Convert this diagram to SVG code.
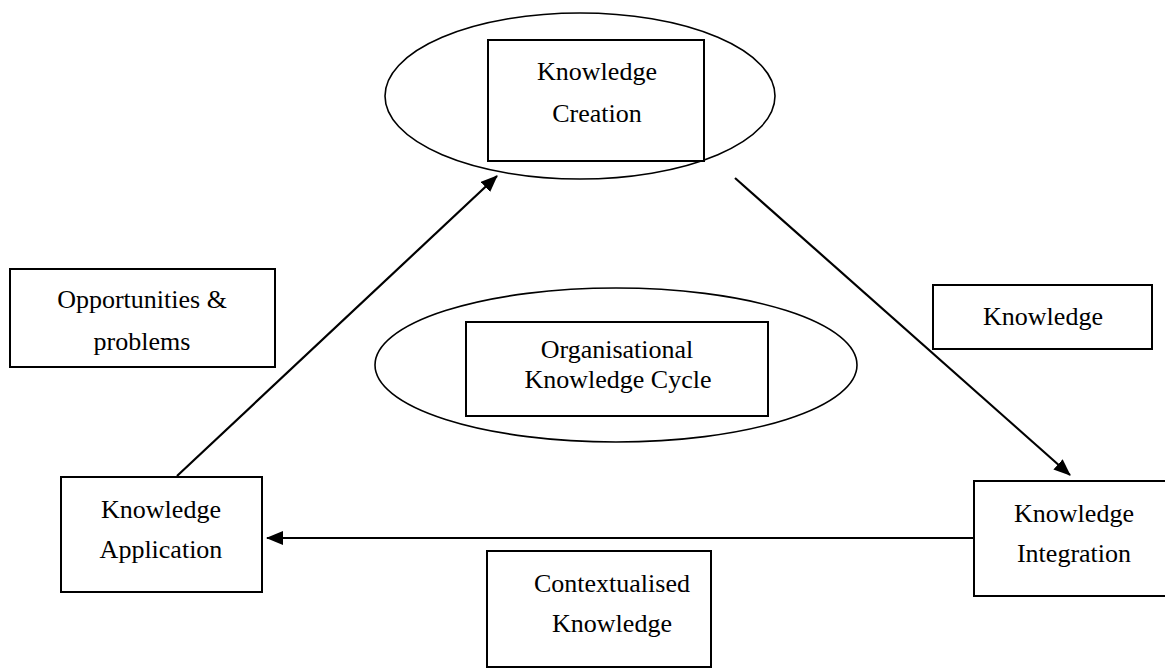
<svg xmlns="http://www.w3.org/2000/svg" width="1165" height="668" viewBox="0 0 1165 668">
<style>
.box{fill:#fff;stroke:#000;stroke-width:2}
.ell{fill:none;stroke:#000;stroke-width:1.6}
.t{font-family:'Liberation Serif','Times New Roman','DejaVu Serif',serif;font-size:26px;fill:#000;text-anchor:middle}
.edge{stroke:#000;stroke-width:2.2;fill:none;marker-end:url(#ah)}
</style>
<defs>
<marker id="ah" markerUnits="userSpaceOnUse" markerWidth="18" markerHeight="14" refX="16" refY="7" orient="auto">
<path d="M0,0 L17,7 L0,14 z" fill="#000"/>
</marker>
</defs>
<rect width="1165" height="668" fill="#fff"/>
<g id="creation">
<ellipse class="ell" cx="580" cy="96" rx="195" ry="83"/>
<rect class="box" x="488" y="40" width="216" height="121"/>
<text class="t" x="597" y="80" font-family="Liberation Serif, serif">Knowledge</text>
<text class="t" x="597" y="122" font-family="Liberation Serif, serif">Creation</text>
</g>
<g id="cycle">
<ellipse class="ell" cx="616" cy="365" rx="241" ry="77"/>
<rect class="box" x="466" y="322" width="302" height="94"/>
<text class="t" x="617" y="358">Organisational</text>
<text class="t" x="618" y="388">Knowledge Cycle</text>
</g>
<g id="opportunities">
<rect class="box" x="10" y="269" width="265" height="98"/>
<text class="t" x="142" y="308">Opportunities &amp;</text>
<text class="t" x="142" y="350">problems</text>
</g>
<g id="knowledge">
<rect class="box" x="933" y="285" width="219" height="64"/>
<text class="t" x="1043" y="325">Knowledge</text>
</g>
<g id="application">
<rect class="box" x="61" y="477" width="201" height="115"/>
<text class="t" x="161" y="518">Knowledge</text>
<text class="t" x="161" y="558">Application</text>
</g>
<g id="integration">
<rect class="box" x="974" y="481" width="200" height="115"/>
<text class="t" x="1074" y="522">Knowledge</text>
<text class="t" x="1074" y="562">Integration</text>
</g>
<g id="contextualised">
<rect class="box" x="487" y="551" width="224" height="116"/>
<text class="t" x="612" y="592">Contextualised</text>
<text class="t" x="612" y="632">Knowledge</text>
</g>
<g id="connectors">
<line class="edge" x1="177" y1="476" x2="497" y2="176"/>
<line class="edge" x1="735" y1="178" x2="1070" y2="475"/>
<line class="edge" x1="975" y1="538" x2="267" y2="538"/>
</g>
</svg>
